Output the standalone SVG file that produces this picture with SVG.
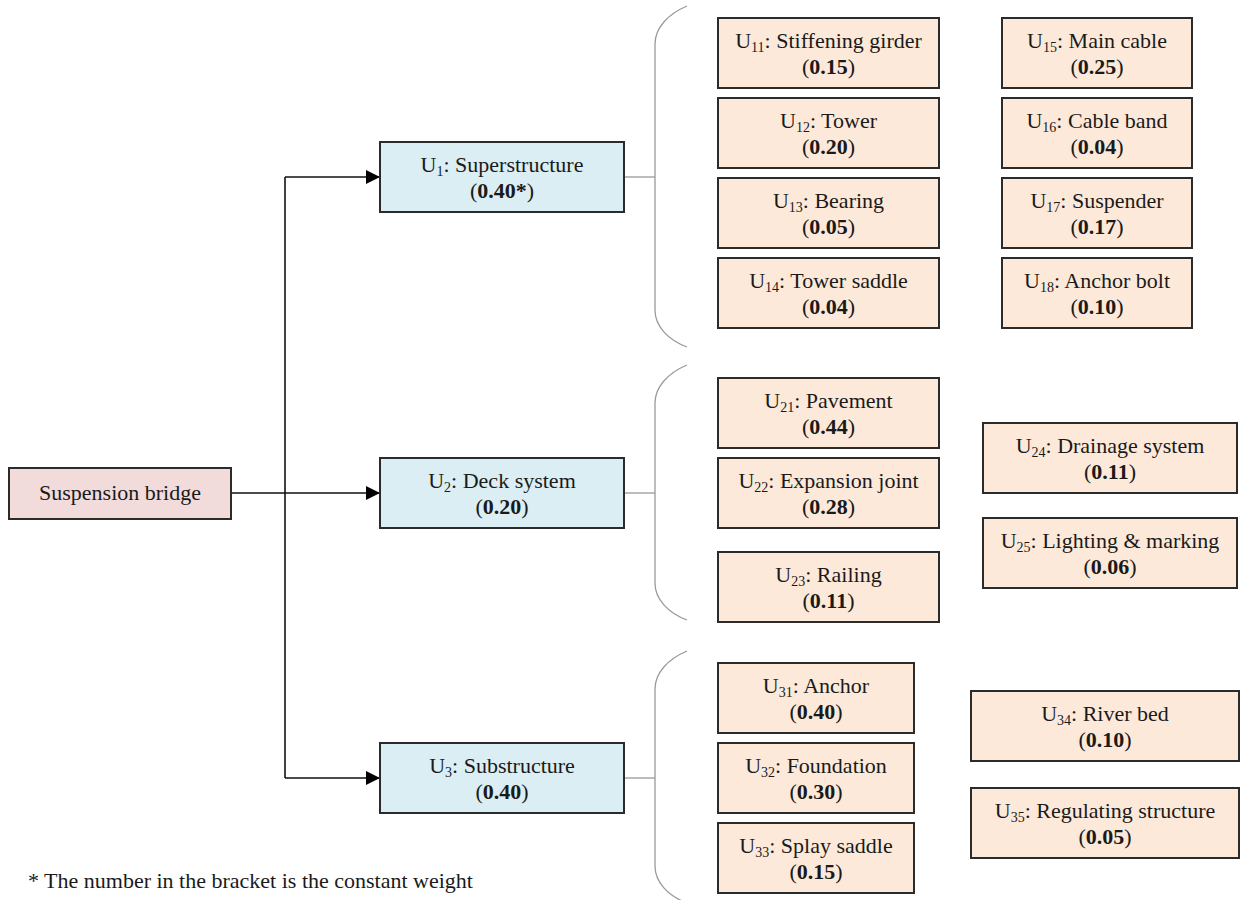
<svg xmlns="http://www.w3.org/2000/svg" width="1243" height="900" viewBox="0 0 1243 900">
<style>
  text { font-family: "Liberation Serif", "Times New Roman", serif; font-size: 22px; fill: #1a1a1a; text-anchor: middle; }
  .b { font-weight: bold; }
  .sub { font-size: 14px; }
  .root { fill: #F2DCDB; stroke: #2b2b2b; stroke-width: 2; }
  .mid { fill: #DAEEF3; stroke: #2b2b2b; stroke-width: 2; }
  .leaf { fill: #FDE9D9; stroke: #2b2b2b; stroke-width: 2; }
  .conn { fill: none; stroke: #111; stroke-width: 1.6; }
  .brk { fill: none; stroke: #9a9a9a; stroke-width: 1.3; }
  .foot { text-anchor: start; }
</style>
<defs>
  <marker id="arr" markerUnits="userSpaceOnUse" markerWidth="15" markerHeight="14" refX="14" refY="7" orient="auto">
    <path d="M0,0 L14,7 L0,14 z" fill="#000"/>
  </marker>
</defs>

<g id="connectors">
  <path class="conn" d="M231,493 H380" marker-end="url(#arr)"/>
  <path class="conn" d="M285,177 V778"/>
  <path class="conn" d="M285,177 H380" marker-end="url(#arr)"/>
  <path class="conn" d="M285,778 H380" marker-end="url(#arr)"/>
  <path class="brk" d="M624,177 H655"/>
  <path class="brk" d="M624,493 H655"/>
  <path class="brk" d="M624,778 H655"/>
  <path class="brk" d="M687,6 C668,14 655,28 655,44 L655,310 C655,326 668,340 687,347"/>
  <path class="brk" d="M687,365 C668,373 655,387 655,403 L655,583 C655,599 668,613 687,620"/>
  <path class="brk" d="M687,651 C668,659 655,673 655,689 L655,866 C655,882 668,896 687,903"/>
</g>

<g id="root">
  <rect class="root" x="9" y="468" width="222" height="51"/>
  <text x="120" y="500">Suspension bridge</text>
</g>

<g id="U1">
  <rect class="mid" x="380" y="142" width="244" height="70"/>
  <text x="502" y="172">U<tspan class="sub" dy="4">1</tspan><tspan dy="-4">: Superstructure</tspan></text>
  <text x="502" y="198">(<tspan class="b">0.40*</tspan>)</text>
</g>
<g id="U2">
  <rect class="mid" x="380" y="458" width="244" height="70"/>
  <text x="502" y="488">U<tspan class="sub" dy="4">2</tspan><tspan dy="-4">: Deck system</tspan></text>
  <text x="502" y="514">(<tspan class="b">0.20</tspan>)</text>
</g>
<g id="U3">
  <rect class="mid" x="380" y="743" width="244" height="70"/>
  <text x="502" y="773">U<tspan class="sub" dy="4">3</tspan><tspan dy="-4">: Substructure</tspan></text>
  <text x="502" y="799">(<tspan class="b">0.40</tspan>)</text>
</g>

<g id="U11">
  <rect class="leaf" x="718" y="18" width="221" height="70"/>
  <text x="828.5" y="48">U<tspan class="sub" dy="4">11</tspan><tspan dy="-4">: Stiffening girder</tspan></text>
  <text x="828.5" y="74">(<tspan class="b">0.15</tspan>)</text>
</g>
<g id="U12">
  <rect class="leaf" x="718" y="98" width="221" height="70"/>
  <text x="828.5" y="128">U<tspan class="sub" dy="4">12</tspan><tspan dy="-4">: Tower</tspan></text>
  <text x="828.5" y="154">(<tspan class="b">0.20</tspan>)</text>
</g>
<g id="U13">
  <rect class="leaf" x="718" y="178" width="221" height="70"/>
  <text x="828.5" y="208">U<tspan class="sub" dy="4">13</tspan><tspan dy="-4">: Bearing</tspan></text>
  <text x="828.5" y="234">(<tspan class="b">0.05</tspan>)</text>
</g>
<g id="U14">
  <rect class="leaf" x="718" y="258" width="221" height="70"/>
  <text x="828.5" y="288">U<tspan class="sub" dy="4">14</tspan><tspan dy="-4">: Tower saddle</tspan></text>
  <text x="828.5" y="314">(<tspan class="b">0.04</tspan>)</text>
</g>
<g id="U15">
  <rect class="leaf" x="1002" y="18" width="190" height="70"/>
  <text x="1097" y="48">U<tspan class="sub" dy="4">15</tspan><tspan dy="-4">: Main cable</tspan></text>
  <text x="1097" y="74">(<tspan class="b">0.25</tspan>)</text>
</g>
<g id="U16">
  <rect class="leaf" x="1002" y="98" width="190" height="70"/>
  <text x="1097" y="128">U<tspan class="sub" dy="4">16</tspan><tspan dy="-4">: Cable band</tspan></text>
  <text x="1097" y="154">(<tspan class="b">0.04</tspan>)</text>
</g>
<g id="U17">
  <rect class="leaf" x="1002" y="178" width="190" height="70"/>
  <text x="1097" y="208">U<tspan class="sub" dy="4">17</tspan><tspan dy="-4">: Suspender</tspan></text>
  <text x="1097" y="234">(<tspan class="b">0.17</tspan>)</text>
</g>
<g id="U18">
  <rect class="leaf" x="1002" y="258" width="190" height="70"/>
  <text x="1097" y="288">U<tspan class="sub" dy="4">18</tspan><tspan dy="-4">: Anchor bolt</tspan></text>
  <text x="1097" y="314">(<tspan class="b">0.10</tspan>)</text>
</g>

<g id="U21">
  <rect class="leaf" x="718" y="378" width="221" height="70"/>
  <text x="828.5" y="408">U<tspan class="sub" dy="4">21</tspan><tspan dy="-4">: Pavement</tspan></text>
  <text x="828.5" y="434">(<tspan class="b">0.44</tspan>)</text>
</g>
<g id="U22">
  <rect class="leaf" x="718" y="458" width="221" height="70"/>
  <text x="828.5" y="488">U<tspan class="sub" dy="4">22</tspan><tspan dy="-4">: Expansion joint</tspan></text>
  <text x="828.5" y="514">(<tspan class="b">0.28</tspan>)</text>
</g>
<g id="U23">
  <rect class="leaf" x="718" y="552" width="221" height="70"/>
  <text x="828.5" y="582">U<tspan class="sub" dy="4">23</tspan><tspan dy="-4">: Railing</tspan></text>
  <text x="828.5" y="608">(<tspan class="b">0.11</tspan>)</text>
</g>
<g id="U24">
  <rect class="leaf" x="983" y="423" width="254" height="70"/>
  <text x="1110" y="453">U<tspan class="sub" dy="4">24</tspan><tspan dy="-4">: Drainage system</tspan></text>
  <text x="1110" y="479">(<tspan class="b">0.11</tspan>)</text>
</g>
<g id="U25">
  <rect class="leaf" x="983" y="518" width="254" height="70"/>
  <text x="1110" y="548">U<tspan class="sub" dy="4">25</tspan><tspan dy="-4">: Lighting &amp; marking</tspan></text>
  <text x="1110" y="574">(<tspan class="b">0.06</tspan>)</text>
</g>

<g id="U31">
  <rect class="leaf" x="718" y="663" width="196" height="70"/>
  <text x="816" y="693">U<tspan class="sub" dy="4">31</tspan><tspan dy="-4">: Anchor</tspan></text>
  <text x="816" y="719">(<tspan class="b">0.40</tspan>)</text>
</g>
<g id="U32">
  <rect class="leaf" x="718" y="743" width="196" height="70"/>
  <text x="816" y="773">U<tspan class="sub" dy="4">32</tspan><tspan dy="-4">: Foundation</tspan></text>
  <text x="816" y="799">(<tspan class="b">0.30</tspan>)</text>
</g>
<g id="U33">
  <rect class="leaf" x="718" y="823" width="196" height="70"/>
  <text x="816" y="853">U<tspan class="sub" dy="4">33</tspan><tspan dy="-4">: Splay saddle</tspan></text>
  <text x="816" y="879">(<tspan class="b">0.15</tspan>)</text>
</g>
<g id="U34">
  <rect class="leaf" x="971" y="691" width="268" height="70"/>
  <text x="1105" y="721">U<tspan class="sub" dy="4">34</tspan><tspan dy="-4">: River bed</tspan></text>
  <text x="1105" y="747">(<tspan class="b">0.10</tspan>)</text>
</g>
<g id="U35">
  <rect class="leaf" x="971" y="788" width="268" height="70"/>
  <text x="1105" y="818">U<tspan class="sub" dy="4">35</tspan><tspan dy="-4">: Regulating structure</tspan></text>
  <text x="1105" y="844">(<tspan class="b">0.05</tspan>)</text>
</g>

<g id="footnote">
  <text class="foot" x="28" y="888">* The number in the bracket is the constant weight</text>
</g>
</svg>
